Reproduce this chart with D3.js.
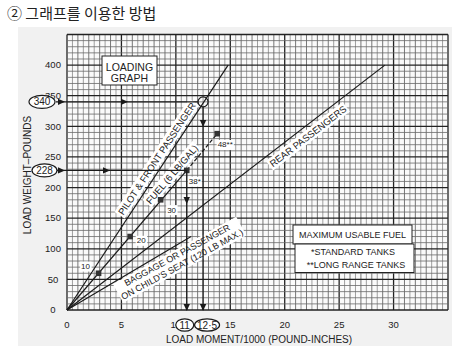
<!DOCTYPE html>
<html>
<head>
<meta charset="utf-8">
<script src="https://cdn.jsdelivr.net/npm/d3@7"></script>
<style>
  body { margin: 0; background: #fff; }
  text { font-family: "Liberation Sans", Arial, sans-serif; fill: #222; }
</style>
</head>
<body>
<div id="chart"></div>
<script>
// values
const xTicks = [0, 5, 10, 15, 20, 25, 30];
const yTicks = [0, 50, 100, 150, 200, 250, 300, 350, 400];

// straight load lines from the origin: end point of each
const lineNames = ["pilot", "fuel", "rear", "baggage"];
const lineEndMoment = [14.8, 13.8, 29.2, 11.4];
const lineEndWeight = [400, 288, 400, 120];

// fuel marks along the fuel line
const fuelMarks = ["10", "20", "30", "38*", "48**"];
const fuelWeight = [60, 120, 180, 228, 288];
const fuelMoment = [2.9, 5.8, 8.6, 11.0, 13.8];

// worked example (weight -> moment)
const exampleWeight = [340, 228];
const exampleMoment = [12.5, 11];
const exampleWeightText = ["340", "228"];
const exampleMomentText = ["12·5", "11"];

const width = 459, height = 362;

const svg = d3.select("#chart").append("svg")
    .attr("width", width)
    .attr("height", height);

// x: moment/1000, y: weight
const x = d3.scaleLinear().domain([0, 35]).range([67, 448]);
const y = d3.scaleLinear().domain([0, 450]).range([310, 34.5]);

//Title
svg.append("text")
    .attr("x", 7).attr("y", 19)
    .style("font-family", "'Noto Sans CJK KR', sans-serif")
    .style("font-size", "15px")
    .text("② 그래프를 이용한 방법");

//light scan background
svg.append("rect")
    .attr("x", 18).attr("y", 27)
    .attr("width", 434).attr("height", 319)
    .attr("fill", "#f1f1f1");

svg.append("rect")
    .attr("x", x(0)).attr("y", y(450))
    .attr("width", x(35) - x(0)).attr("height", y(0) - y(450))
    .attr("fill", "#fafafa");

//Grid
let grid = svg.append("g");
d3.range(0, 35.01, 0.5).forEach(function(v) {
    let major = Math.abs(v % 5) < 1e-6;
    let unit = Math.abs(v % 1) < 1e-6;
    grid.append("line")
        .attr("x1", x(v)).attr("x2", x(v))
        .attr("y1", y(0)).attr("y2", y(450))
        .attr("stroke", major ? "#222" : (unit ? "#555" : "#888"))
        .attr("stroke-width", major ? 1.3 : 0.8);
});
d3.range(0, 450.1, 10).forEach(function(v) {
    let major = v % 50 == 0;
    grid.append("line")
        .attr("x1", x(0)).attr("x2", x(35))
        .attr("y1", y(v)).attr("y2", y(v))
        .attr("stroke", major ? "#222" : "#6a6a6a")
        .attr("stroke-width", major ? 1.3 : 0.8);
});

//Tick labels
svg.append("g").selectAll("text").data(yTicks).join("text")
    .attr("x", 53).attr("y", d => y(d))
    .attr("dy", "0.35em")
    .attr("text-anchor", "middle")
    .style("font-size", "9.5px")
    .text(d => d);

svg.append("g").selectAll("text").data(xTicks).join("text")
    .attr("x", d => x(d)).attr("y", 325)
    .attr("dy", "0.35em")
    .attr("text-anchor", "middle")
    .style("font-size", "9.5px")
    .text(d => d);

//Axis titles
svg.append("text")
    .attr("transform", "translate(31,175) rotate(-90)")
    .attr("text-anchor", "middle")
    .style("font-size", "10px")
    .text("LOAD WEIGHT–POUNDS");

svg.append("text")
    .attr("x", 259).attr("y", 343)
    .attr("text-anchor", "middle")
    .style("font-size", "10px")
    .text("LOAD MOMENT/1000 (POUND-INCHES)");

/*boxedText: rotated text with a white box knocked out of the grid
*Parameters:
*   parent, lines of text, centre in px, angle in degrees, font size, line height
*/
function boxedText(parent, lines, cx, cy, angle, size, lh, pad) {
    let g = parent.append("g")
        .attr("transform", "translate(" + cx + "," + cy + ") rotate(" + angle + ")");
    let rect = g.append("rect").attr("fill", "#fff");
    let t = g.append("text")
        .attr("text-anchor", "middle")
        .style("font-size", size + "px");
    lines.forEach(function(l, i) {
        t.append("tspan")
            .attr("x", 0)
            .attr("y", (i - (lines.length - 1) / 2) * lh)
            .attr("dy", "0.35em")
            .text(l);
    });
    let b = t.node().getBBox();
    pad = pad || 1.5;
    rect.attr("x", b.x - pad).attr("y", b.y - 0.5)
        .attr("width", b.width + 2 * pad).attr("height", b.height + 1);
    return g;
}

function lineAngle(i) {
    let dx = x(lineEndMoment[i]) - x(0);
    let dy = y(lineEndWeight[i]) - y(0);
    return Math.atan2(dy, dx) * 180 / Math.PI;
}

/*labelOnLine: label centred at fraction t along line i, shifted off it by off px
*  (negative = above the line, positive = below)
*/
function labelOnLine(parent, i, t, off, lines, size, lh, turn) {
    let a = lineAngle(i) * Math.PI / 180;
    let px = x(0) + t * (x(lineEndMoment[i]) - x(0));
    let py = y(0) + t * (y(lineEndWeight[i]) - y(0));
    // normal pointing below/right of the line
    let nx = -Math.sin(a), ny = Math.cos(a);
    return boxedText(parent, lines, px + nx * off, py + ny * off,
        lineAngle(i) + (turn || 0), size, lh);
}

let labels = svg.append("g");
labelOnLine(labels, 0, 0.6, -8, ["PILOT & FRONT PASSENGER"], 9.5, 10);
labelOnLine(labels, 1, 0.74, -8, ["FUEL (6 LB/GAL)"], 9.5, 10);
labelOnLine(labels, 2, 0.74, 9.5, ["REAR PASSENGERS"], 9.5, 10);
labelOnLine(labels, 3, 0.85, 14, ["BAGGAGE OR PASSENGER", "ON CHILD'S SEAT (120 LB MAX.)"], 9, 10.5, 2);

//Load lines
svg.append("g").selectAll("line").data(lineNames).join("line")
    .attr("x1", x(0)).attr("y1", y(0))
    .attr("x2", (d, i) => x(i == 1 ? fuelMoment[3] : lineEndMoment[i]))
    .attr("y2", (d, i) => y(i == 1 ? fuelWeight[3] : lineEndWeight[i]))
    .attr("stroke", "#1a1a1a")
    .attr("stroke-width", 1.2);

// long range part of the fuel line
svg.append("line")
    .attr("x1", x(fuelMoment[3])).attr("y1", y(fuelWeight[3]))
    .attr("x2", x(fuelMoment[4])).attr("y2", y(fuelWeight[4]))
    .attr("stroke", "#1a1a1a")
    .attr("stroke-width", 1.2)
    .attr("stroke-dasharray", "4,2");

//Fuel squares and gallon labels
let fuel = svg.append("g");
let markOffset = [[-13, -7], [11, 4], [11, 10], [8, 11], [8, 11]];
fuelMarks.forEach(function(m, i) {
    let px = x(fuelMoment[i]), py = y(fuelWeight[i]);
    boxedText(fuel, [m], px + markOffset[i][0], py + markOffset[i][1], 0, 8, 9, 1);
    fuel.append("rect")
        .attr("x", px - 2.8).attr("y", py - 2.8)
        .attr("width", 5.6).attr("height", 5.6)
        .attr("fill", "#333");
});

//LOADING GRAPH box
svg.append("rect")
    .attr("x", 102).attr("y", 56)
    .attr("width", 55).attr("height", 29)
    .attr("fill", "#fff").attr("stroke", "#222").attr("stroke-width", 1);
svg.append("text").attr("x", 129.5).attr("y", 67).attr("dy", "0.35em")
    .attr("text-anchor", "middle").style("font-size", "10.5px").text("LOADING");
svg.append("text").attr("x", 129.5).attr("y", 78.5).attr("dy", "0.35em")
    .attr("text-anchor", "middle").style("font-size", "10.5px").text("GRAPH");

//MAXIMUM USABLE FUEL box
svg.append("rect")
    .attr("x", 293).attr("y", 225)
    .attr("width", 119).attr("height", 19)
    .attr("fill", "#fff").attr("stroke", "#222").attr("stroke-width", 1);
svg.append("rect")
    .attr("x", 295).attr("y", 244)
    .attr("width", 119).attr("height", 28.5)
    .attr("fill", "#fff").attr("stroke", "#222").attr("stroke-width", 1);
svg.append("text").attr("x", 352.5).attr("y", 234.5).attr("dy", "0.35em")
    .attr("text-anchor", "middle").style("font-size", "9px").text("MAXIMUM USABLE FUEL");
svg.append("text").attr("x", 353).attr("y", 252).attr("dy", "0.35em")
    .attr("text-anchor", "middle").style("font-size", "9px").text("*STANDARD TANKS");
svg.append("text").attr("x", 356).attr("y", 265).attr("dy", "0.35em")
    .attr("text-anchor", "middle").style("font-size", "9px").text("**LONG RANGE TANKS");

//Worked example arrows
function arrowHead(parent, px, py, dir) {
    // dir: "right" or "down"
    let pts = dir == "right"
        ? [[px, py], [px - 7, py - 3.2], [px - 7, py + 3.2]]
        : [[px, py], [px - 3.2, py - 7], [px + 3.2, py - 7]];
    parent.append("path")
        .attr("d", "M" + pts.map(p => p.join(",")).join("L") + "Z")
        .attr("fill", "#1a1a1a");
}

let ex = svg.append("g");
let midArrowX = [128, 110];
let midArrowY = [127, 204];
exampleWeight.forEach(function(w, i) {
    let py = y(w), px = x(exampleMoment[i]);
    ex.append("line")
        .attr("x1", 56).attr("x2", px - (i == 0 ? 5 : 0))
        .attr("y1", py).attr("y2", py)
        .attr("stroke", "#1a1a1a").attr("stroke-width", 1.3);
    ex.append("line")
        .attr("x1", px).attr("x2", px)
        .attr("y1", py + (i == 0 ? 5 : 0)).attr("y2", y(0))
        .attr("stroke", "#1a1a1a").attr("stroke-width", 1.3);
    arrowHead(ex, 65, py, "right");
    arrowHead(ex, midArrowX[i], py, "right");
    arrowHead(ex, px, midArrowY[i], "down");
    arrowHead(ex, px, y(0) + 1, "down");
});

// circle at the pilot line crossing
ex.append("circle")
    .attr("cx", x(exampleMoment[0])).attr("cy", y(exampleWeight[0]))
    .attr("r", 5)
    .attr("fill", "none").attr("stroke", "#1a1a1a").attr("stroke-width", 1.2);

// ellipses on the axes
let ellW = [13, 12.5];
exampleWeightText.forEach(function(t, i) {
    let cy = y(exampleWeight[i]);
    let cx = i == 0 ? 42 : 44.5;
    ex.append("ellipse")
        .attr("cx", cx).attr("cy", cy).attr("rx", ellW[i]).attr("ry", 6.5)
        .attr("fill", "#fff").attr("stroke", "#1a1a1a").attr("stroke-width", 1.2);
    ex.append("text")
        .attr("x", cx).attr("y", cy).attr("dy", "0.35em")
        .attr("text-anchor", "middle").style("font-size", "10px")
        .text(t);
});

let ellBottom = [12.5, 9];
exampleMomentText.forEach(function(t, i) {
    let cx = x(exampleMoment[i]) + (i == 0 ? 4 : -2);
    ex.append("ellipse")
        .attr("cx", cx).attr("cy", 325).attr("rx", ellBottom[i]).attr("ry", 6.2)
        .attr("fill", "#fff").attr("stroke", "#1a1a1a").attr("stroke-width", 1.2);
    ex.append("text")
        .attr("x", cx).attr("y", 325).attr("dy", "0.35em")
        .attr("text-anchor", "middle").style("font-size", "10px")
        .text(t);
});
</script>
</body>
</html>
